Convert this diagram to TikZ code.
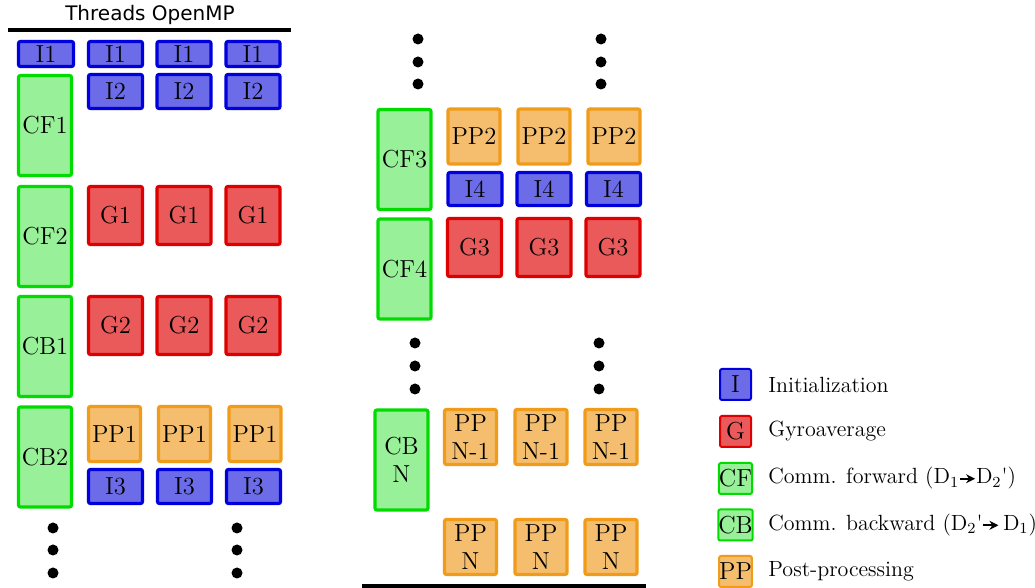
\documentclass[tikz,border=0pt]{standalone}
\usepackage{fontspec}
\newfontfamily\dejavu{DejaVu Sans}
\usetikzlibrary{arrows.meta}
\definecolor{iblue}{HTML}{0000DC}
\definecolor{ifill}{HTML}{6C6CE8}
\definecolor{gred}{HTML}{DC0000}
\definecolor{gfill}{HTML}{EA5A5A}
\definecolor{cgreen}{HTML}{00DC00}
\definecolor{cfill}{HTML}{98F098}
\definecolor{porange}{HTML}{F09B19}
\definecolor{pfill}{HTML}{F4BE6E}
\begin{document}
\begin{tikzpicture}[x=0.5pt,y=-0.5pt,
  box/.style={draw, line width=1.6pt, rounded corners=1pt, inner sep=0pt,
    font=\fontsize{12.3}{14}\selectfont, align=center, minimum width=27pt},
  ib/.style={box, draw=iblue, fill=ifill},
  gb/.style={box, draw=gred, fill=gfill, minimum height=29pt},
  cb/.style={box, draw=cgreen, fill=cfill, minimum width=26.5pt, minimum height=50pt},
  pb/.style={box, draw=porange, fill=pfill, minimum width=26pt, minimum height=27.5pt},
  lg/.style={line width=1pt, rounded corners=1pt, inner sep=0pt, minimum size=15.5pt,
    font=\fontsize{12.3}{14}\selectfont},
  lt/.style={anchor=west, inner sep=0pt, font=\fontsize{11}{13}\selectfont},
  dotn/.style={circle, fill=black, inner sep=0pt, minimum size=5.5pt},
  rule/.style={line width=1.8pt}
]
\useasboundingbox (0,0) rectangle (1035,588);

% header
\node[font=\dejavu\fontsize{10}{12}\selectfont] (title) at (150,15) {Threads OpenMP};
\coordinate (tl) at (8,30); \coordinate (tr) at (291,30);
\draw[rule] (tl) -- (tr);

% left block
\node[ib, minimum height=12.5pt, minimum width=27.5pt] (i1a) at (46,54) {I1};
\node[ib, minimum height=12.5pt] (i1b) at (115.5,54) {I1};
\node[ib, minimum height=12.5pt] (i1c) at (184,54) {I1};
\node[ib, minimum height=12.5pt] (i1d) at (253,54) {I1};
\node[ib, minimum height=17pt] (i2b) at (115.5,91.5) {I2};
\node[ib, minimum height=17pt] (i2c) at (184,91.5) {I2};
\node[ib, minimum height=17pt] (i2d) at (253,91.5) {I2};
\node[cb] (cf1) at (45,125.5) {CF1};
\node[cb] (cf2) at (45,236.5) {CF2};
\node[gb] (g1b) at (115.5,215.5) {G1};
\node[gb] (g1c) at (184,215.5) {G1};
\node[gb] (g1d) at (253,215.5) {G1};
\node[cb] (cb1) at (45,346.5) {CB1};
\node[gb] (g2b) at (115.5,325.5) {G2};
\node[gb] (g2c) at (184,325.5) {G2};
\node[gb] (g2d) at (253,325.5) {G2};
\node[cb] (cb2) at (45,457) {CB2};
\node[pb] (pp1b) at (114.5,434) {PP1};
\node[pb] (pp1c) at (184.5,434) {PP1};
\node[pb] (pp1d) at (255,434) {PP1};
\node[ib, minimum height=17pt] (i3b) at (115.5,486.5) {I3};
\node[ib, minimum height=17pt] (i3c) at (184.5,486.5) {I3};
\node[ib, minimum height=17pt] (i3d) at (253.5,486.5) {I3};
\node[dotn] (d1) at (53,528) {};
\node[dotn] (d2) at (53,550) {};
\node[dotn] (d3) at (53,573) {};
\node[dotn] (d4) at (237,528) {};
\node[dotn] (d5) at (237,550) {};
\node[dotn] (d6) at (237,573) {};

% right block
\node[dotn] (e1) at (418,39) {};
\node[dotn] (e2) at (418,62) {};
\node[dotn] (e3) at (418,84) {};
\node[dotn] (e4) at (601,39) {};
\node[dotn] (e5) at (601,62) {};
\node[dotn] (e6) at (601,84) {};
\node[cb] (cf3) at (404.5,159.5) {CF3};
\node[pb] (pp2b) at (474,136.5) {PP2};
\node[pb] (pp2c) at (544,136.5) {PP2};
\node[pb] (pp2d) at (614,136.5) {PP2};
\node[ib, minimum height=16.5pt] (i4b) at (475,189) {I4};
\node[ib, minimum height=16.5pt] (i4c) at (544,189) {I4};
\node[ib, minimum height=16.5pt] (i4d) at (613.5,189) {I4};
\node[gb] (g3b) at (474.5,247.5) {G3};
\node[gb] (g3c) at (544,247.5) {G3};
\node[gb] (g3d) at (613,247.5) {G3};
\node[cb] (cf4) at (404.5,269) {CF4};
\node[dotn] (f1) at (415,343) {};
\node[dotn] (f2) at (415,366) {};
\node[dotn] (f3) at (415,389) {};
\node[dotn] (f4) at (599,343) {};
\node[dotn] (f5) at (599,366) {};
\node[dotn] (f6) at (599,389) {};
\node[cb] (cbn) at (401.5,460) {CB\\N};
\node[pb] (ppn1b) at (470.5,437) {PP\\N-1};
\node[pb] (ppn1c) at (541,437) {PP\\N-1};
\node[pb] (ppn1d) at (611,437) {PP\\N-1};
\node[pb] (ppnb) at (470.5,547) {PP\\N};
\node[pb] (ppnc) at (541,547) {PP\\N};
\node[pb] (ppnd) at (611,547) {PP\\N};
\coordinate (bl) at (362,586); \coordinate (br) at (646,586);
\draw[rule] (bl) -- (br);

% legend
\node[lg, draw=iblue, fill=ifill] (li) at (735.5,384.5) {I};
\node[lg, draw=gred, fill=gfill] (lgg) at (735.5,431.5) {G};
\node[lg, draw=cgreen, fill=cfill] (lcf) at (735.5,478.5) {CF};
\node[lg, draw=cgreen, fill=cfill] (lcb) at (735.5,525) {CB};
\node[lg, draw=porange, fill=pfill] (lpp) at (735.5,571.5) {PP};
\newcommand{\myarr}{\tikz[baseline=-0.55ex]\draw[-{Stealth[length=4.5pt,width=4.5pt]},line width=0.9pt] (0,0) -- (7.5pt,0);}
\node[lt] (ti) at (768,384.5) {Initialization};
\node[lt] (tg) at (768,431.5) {Gyroaverage};
\node[lt] (tcf) at (768,478.5) {Comm. forward (D\textsubscript{1}\myarr D\textsubscript{2}\textquotesingle)};
\node[lt] (tcb) at (768,525) {Comm. backward (D\textsubscript{2}\textquotesingle\myarr\,D\textsubscript{1})};
\node[lt] (tpp) at (768,571.5) {Post-processing};
\end{tikzpicture}
\end{document}
